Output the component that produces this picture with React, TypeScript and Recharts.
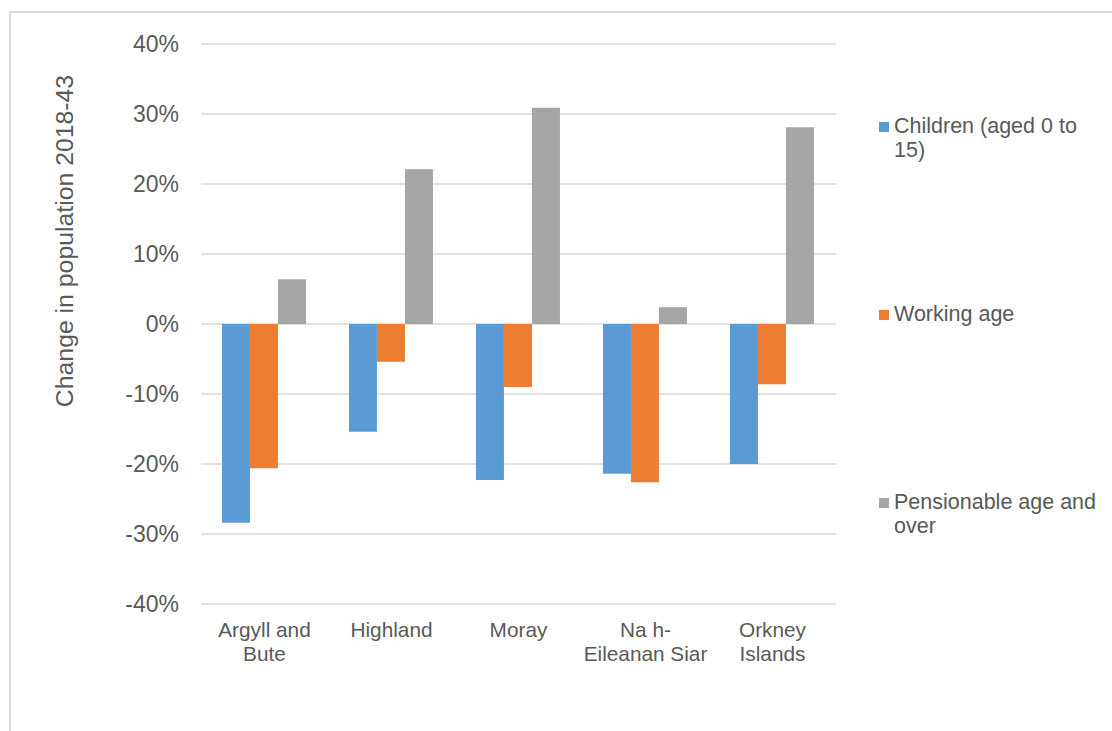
import { BarChart, Bar, XAxis, YAxis, CartesianGrid } from "recharts";

const areas = ["Argyll and\nBute", "Highland", "Moray", "Na h-\nEileanan Siar", "Orkney\nIslands"];
const children = [-28.4, -15.4, -22.3, -21.4, -20.0];
const workingAge = [-20.6, -5.4, -9.0, -22.6, -8.6];
const pensionAge = [6.4, 22.1, 30.9, 2.4, 28.1];
const yTicks = [-40, -30, -20, -10, 0, 10, 20, 30, 40];

const seriesNames = ["Children (aged 0 to\n15)", "Working age", "Pensionable age and\nover"];
const seriesColors = ["#5B9BD5", "#ED7D31", "#A5A5A5"];
const yTitle = "Change in population 2018-43";

const data = areas.map((area, i) => ({
  area,
  children: children[i],
  working: workingAge[i],
  pension: pensionAge[i],
}));

const textColor = "#595959";
const font = "'Liberation Sans', Arial, sans-serif";

function AreaTick(props: any) {
  const { x, y, payload } = props;
  const lines = String(payload.value).split("\n");
  return (
    <text x={x} y={y} textAnchor="middle" fill={textColor} fontSize={20.8} fontFamily={font}>
      {lines.map((l, i) => (
        <tspan key={i} x={x} dy={i === 0 ? 33 : 23.5}>
          {l}
        </tspan>
      ))}
    </text>
  );
}

export default function App() {
  const keys = ["children", "working", "pension"];
  return (
    <div style={{ position: "absolute", left: 0, top: 0, width: 1112, height: 731, overflow: "hidden", background: "#fff" }}>
      <div
        style={{
          position: "absolute", left: 9, top: 11, width: 1200, height: 800,
          borderLeft: "2px solid #dcdcdc", borderTop: "2px solid #dcdcdc",
        }}
      />
      <div style={{ position: "absolute", left: 0, top: 0 }}>
        <BarChart
          width={1112}
          height={731}
          data={data}
          margin={{ top: 44, right: 276, bottom: 67, left: 61 }}
          barCategoryGap="16.5%"
          barGap={0}
        >
          <CartesianGrid vertical={false} stroke="#d9d9d9" strokeWidth={1.5} />
          <XAxis
            dataKey="area"
            height={60}
            axisLine={false}
            tickLine={false}
            tickSize={0}
            tickMargin={0}
            interval={0}
            tick={<AreaTick />}
          />
          <YAxis
            width={140}
            domain={[-40, 40]}
            ticks={yTicks}
            axisLine={false}
            tickLine={false}
            tickSize={0}
            tickMargin={22}
            tickFormatter={(v) => `${v}%`}
            tick={{ fontSize: 23, fill: textColor, fontFamily: font }}
            label={{
              content: () => (
                <text
                  x={64}
                  y={241}
                  transform="rotate(-90 64 241)"
                  textAnchor="middle"
                  dominantBaseline="central"
                  fill={textColor}
                  fontSize={24.8}
                  fontFamily={font}
                >
                  {yTitle}
                </text>
              ),
            }}
          />
          {keys.map((k, i) => (
            <Bar key={k} dataKey={k} name={seriesNames[i]} fill={seriesColors[i]} isAnimationActive={false} />
          ))}
        </BarChart>
      </div>
      {seriesNames.map((name, i) => (
        <div
          key={name}
          style={{
            position: "absolute", left: 879, top: 114 + i * 188, display: "flex",
            fontFamily: font, fontSize: 21.5, color: textColor, lineHeight: "24px",
          }}
        >
          <div style={{ width: 10, height: 10, background: seriesColors[i], marginTop: 8, marginRight: 5 }} />
          <div style={{ whiteSpace: "pre" }}>{name}</div>
        </div>
      ))}
    </div>
  );
}
